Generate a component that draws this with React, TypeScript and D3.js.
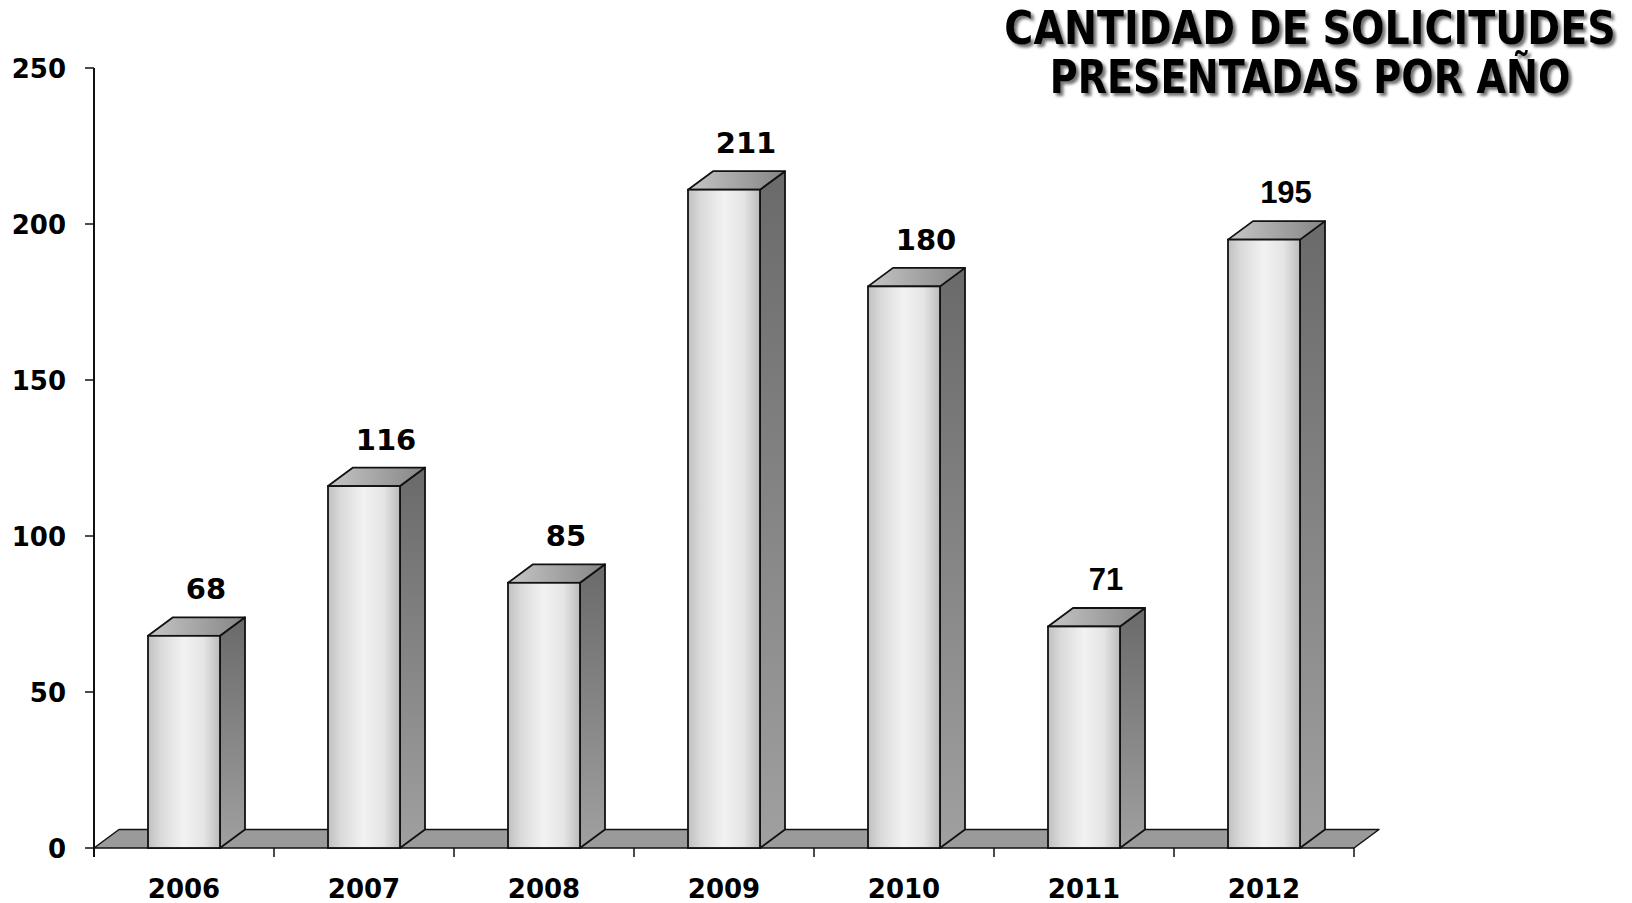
import React, { useEffect, useRef } from 'react';
import * as d3 from 'd3';

// Chart data
const years: string[] = ['2006', '2007', '2008', '2009', '2010', '2011', '2012'];
const solicitudes: number[] = [68, 116, 85, 211, 180, 71, 195];
const yTicks: number[] = [0, 50, 100, 150, 200, 250];
const titleLines: string[] = ['CANTIDAD DE SOLICITUDES', 'PRESENTADAS POR AÑO'];
// labels that the original rendered in Arial instead of Tahoma
const arialLabelYears = new Set<string>(['2011', '2012']);

const W = 1632;
const H = 903;

const App: React.FC = () => {
  const svgRef = useRef<SVGSVGElement>(null);

  useEffect(() => {
    if (!svgRef.current) return;
    const svg = d3.select(svgRef.current);
    svg.selectAll('*').remove();

    const mainFont = '"DejaVu Sans", Verdana, sans-serif';
    const arialFont = '"Liberation Sans", Arial, sans-serif';

    // plot frame
    const left = 94;
    const right = 1354;
    const baseY = 848;
    const topY = 68;
    const depthX = 25;
    const depthY = 18.5;

    const x = d3.scaleBand<string>()
      .domain(years)
      .range([left, right])
      .paddingInner(0.6)
      .paddingOuter(0.3);

    const y = d3.scaleLinear()
      .domain([0, 250])
      .range([baseY, topY]);

    // defs: gradients + title shadow
    const defs = svg.append('defs');

    const front = defs.append('linearGradient')
      .attr('id', 'barFront')
      .attr('x1', '0').attr('y1', '0').attr('x2', '1').attr('y2', '0');
    [
      [0, '#c0c0c0'], [0.18, '#dadada'], [0.5, '#f2f2f2'], [0.78, '#e4e4e4'], [1, '#bbbbbb']
    ].forEach(([o, c]) => front.append('stop').attr('offset', o as number).attr('stop-color', c as string));

    const side = defs.append('linearGradient')
      .attr('id', 'barSide')
      .attr('x1', '0').attr('y1', '0').attr('x2', '0').attr('y2', '1');
    side.append('stop').attr('offset', 0).attr('stop-color', '#6a6a6a');
    side.append('stop').attr('offset', 1).attr('stop-color', '#a0a0a0');

    const topFace = defs.append('linearGradient')
      .attr('id', 'barTop')
      .attr('x1', '0').attr('y1', '0').attr('x2', '1').attr('y2', '0');
    topFace.append('stop').attr('offset', 0).attr('stop-color', '#c6c6c6');
    topFace.append('stop').attr('offset', 1).attr('stop-color', '#858585');

    const shadow = defs.append('filter')
      .attr('id', 'titleShadow')
      .attr('x', '-5%').attr('y', '-20%').attr('width', '110%').attr('height', '150%');
    shadow.append('feDropShadow')
      .attr('dx', 3)
      .attr('dy', 3)
      .attr('stdDeviation', 1.8)
      .attr('flood-color', '#444')
      .attr('flood-opacity', 0.75);

    // floor
    svg.append('polygon')
      .attr('points', [
        [left, baseY], [left + depthX, baseY - depthY],
        [right + depthX, baseY - depthY], [right, baseY]
      ].map(p => p.join(',')).join(' '))
      .attr('fill', '#9a9a9a')
      .attr('stroke', '#111')
      .attr('stroke-width', 1.5)
      .attr('stroke-linejoin', 'round');

    // bars
    const bars = svg.append('g');
    years.forEach((yr, i) => {
      const v = solicitudes[i];
      const x0 = x(yr) as number;
      const x1 = x0 + x.bandwidth();
      const yt = y(v);
      const g = bars.append('g');

      g.append('polygon')
        .attr('points', [
          [x1, yt], [x1 + depthX, yt - depthY], [x1 + depthX, baseY - depthY], [x1, baseY]
        ].map(p => p.join(',')).join(' '))
        .attr('fill', 'url(#barSide)')
        .attr('stroke', '#111')
        .attr('stroke-width', 1.8)
        .attr('stroke-linejoin', 'round');

      g.append('polygon')
        .attr('points', [
          [x0, yt], [x0 + depthX, yt - depthY], [x1 + depthX, yt - depthY], [x1, yt]
        ].map(p => p.join(',')).join(' '))
        .attr('fill', 'url(#barTop)')
        .attr('stroke', '#111')
        .attr('stroke-width', 1.8)
        .attr('stroke-linejoin', 'round');

      g.append('rect')
        .attr('x', x0)
        .attr('y', yt)
        .attr('width', x.bandwidth())
        .attr('height', baseY - yt)
        .attr('fill', 'url(#barFront)')
        .attr('stroke', '#111')
        .attr('stroke-width', 1.8);

      // value label
      const arial = arialLabelYears.has(yr);
      g.append('text')
        .attr('x', x0 + x.bandwidth() / 2 + 22)
        .attr('y', yt - depthY - 18)
        .attr('text-anchor', 'middle')
        .attr('font-family', arial ? arialFont : mainFont)
        .attr('font-weight', 'bold')
        .attr('font-size', arial ? '31px' : '29px')
        .attr('fill', '#000')
        .text(String(v));
    });

    // y axis
    svg.append('line')
      .attr('x1', left).attr('x2', left)
      .attr('y1', topY).attr('y2', baseY + 9)
      .attr('stroke', '#111')
      .attr('stroke-width', 2);

    const yAxis = svg.append('g');
    yAxis.selectAll('line')
      .data(yTicks)
      .enter()
      .append('line')
      .attr('x1', left - 9).attr('x2', left)
      .attr('y1', d => y(d)).attr('y2', d => y(d))
      .attr('stroke', '#111')
      .attr('stroke-width', 1.5);
    yAxis.selectAll('text')
      .data(yTicks)
      .enter()
      .append('text')
      .attr('x', left - 28)
      .attr('y', d => y(d) + 10)
      .attr('text-anchor', 'end')
      .attr('font-family', mainFont)
      .attr('font-weight', 'bold')
      .attr('font-size', '26px')
      .attr('fill', '#000')
      .text(d => String(d));

    // x axis: category boundary ticks + labels
    const step = x.step();
    const xAxis = svg.append('g');
    xAxis.selectAll('line')
      .data(d3.range(years.length + 1))
      .enter()
      .append('line')
      .attr('x1', i => left + i * step).attr('x2', i => left + i * step)
      .attr('y1', baseY).attr('y2', baseY + 9)
      .attr('stroke', '#111')
      .attr('stroke-width', 1.5);
    xAxis.selectAll('text')
      .data(years)
      .enter()
      .append('text')
      .attr('x', d => (x(d) as number) + x.bandwidth() / 2)
      .attr('y', 898)
      .attr('text-anchor', 'middle')
      .attr('font-family', mainFont)
      .attr('font-weight', 'bold')
      .attr('font-size', '26px')
      .attr('fill', '#000')
      .text(d => d);

    // title: condensed bold text (original used a narrower face)
    const title = svg.append('g').attr('filter', 'url(#titleShadow)');
    const titleScaleX = [0.86, 0.83];
    const titleBaselines = [44, 93];
    titleLines.forEach((t, i) => {
      title.append('text')
        .attr('transform', `translate(1310,${titleBaselines[i]}) scale(${titleScaleX[i]},1)`)
        .attr('text-anchor', 'middle')
        .attr('font-family', mainFont)
        .attr('font-weight', 'bold')
        .attr('font-size', '46px')
        .attr('fill', '#000')
        .text(t);
    });
  }, []);

  return (
    <svg
      ref={svgRef}
      width={W}
      height={H}
      viewBox={`0 0 ${W} ${H}`}
      style={{ position: 'absolute', left: 0, top: 0, background: '#fff' }}
    />
  );
};

export default App;
